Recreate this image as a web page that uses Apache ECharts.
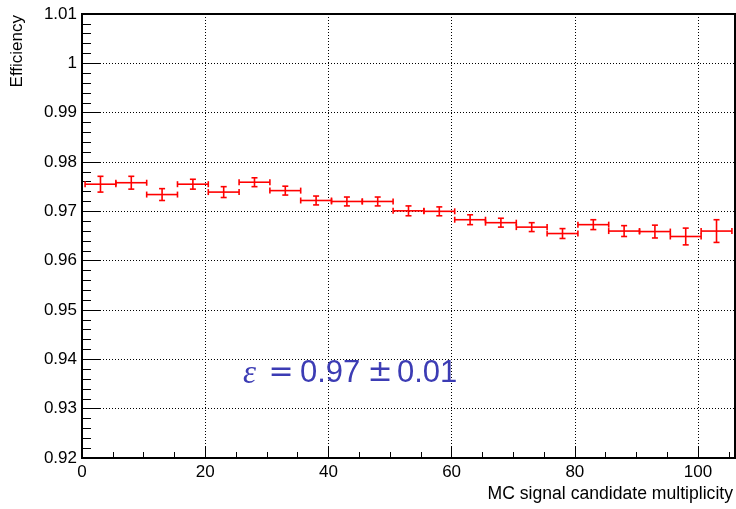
<!DOCTYPE html>
<html>
<head>
<meta charset="utf-8">
<script src="https://cdn.jsdelivr.net/npm/echarts@6/dist/echarts.min.js"></script>
<style>
  html, body { margin: 0; padding: 0; background: #fff; }
  #chart { width: 736px; height: 509px; }
</style>
</head>
<body>
<div id="chart"></div>
<script>
// bin centres (multiplicity), bin half width, efficiency and its error
const binCenters = [3, 8, 13, 18, 23, 28, 33, 38, 43, 48, 53, 58, 63, 68, 73, 78, 83, 88, 93, 98, 103];
const binHalfWidth = 2.5;
const efficiency = [0.9755, 0.9758, 0.9734, 0.9755, 0.9739, 0.9759, 0.9742, 0.9722, 0.9720, 0.9720,
                    0.9701, 0.9700, 0.9683, 0.9677, 0.9668, 0.9655, 0.9673, 0.9660, 0.9659, 0.9649, 0.9660];
const effError = [0.0016, 0.0013, 0.0012, 0.0010, 0.0011, 0.0009, 0.0009, 0.0009, 0.0009, 0.0009,
                  0.0010, 0.0009, 0.0010, 0.0009, 0.0009, 0.0010, 0.0010, 0.0011, 0.0013, 0.0017, 0.0023];

const X_MIN = 0, X_MAX = 106;
const Y_MIN = 0.92, Y_MAX = 1.01;
const FONT = "'Liberation Sans', Arial, Helvetica, sans-serif";
const BLUE = '#3c3cb4';

const points = binCenters.map((c, i) => [c, efficiency[i], effError[i]]);

const chart = echarts.init(document.getElementById('chart'));

// ROOT style error bar: horizontal bar over the bin, vertical error
function renderErrorBar(params, api) {
    const x = api.value(0), y = api.value(1), e = api.value(2);
    const pL = api.coord([x - binHalfWidth, y]);
    const pR = api.coord([x + binHalfWidth, y]);
    const pT = api.coord([x, y + e]);
    const pB = api.coord([x, y - e]);
    const st = { stroke: '#ff0000', lineWidth: 1.6 };
    const cap = 3;
    return {
        type: 'group',
        children: [
            { type: 'line', shape: { x1: pL[0], y1: pL[1], x2: pR[0], y2: pR[1] }, style: st },
            { type: 'line', shape: { x1: pL[0], y1: pL[1] - cap, x2: pL[0], y2: pL[1] + cap }, style: st },
            { type: 'line', shape: { x1: pR[0], y1: pR[1] - cap, x2: pR[0], y2: pR[1] + cap }, style: st },
            { type: 'line', shape: { x1: pT[0], y1: pT[1], x2: pB[0], y2: pB[1] }, style: st },
            { type: 'line', shape: { x1: pT[0] - cap, y1: pT[1], x2: pT[0] + cap, y2: pT[1] }, style: st },
            { type: 'line', shape: { x1: pB[0] - cap, y1: pB[1], x2: pB[0] + cap, y2: pB[1] }, style: st }
        ]
    };
}

const option = {
    animation: false,
    backgroundColor: '#fff',
    grid: {
        left: 82, right: 1, top: 14, bottom: 51,
        show: true, borderColor: '#000', borderWidth: 2, backgroundColor: 'transparent'
    },
    xAxis: [
        {
            type: 'value', min: X_MIN, max: X_MAX, interval: 20,
            axisLine: { show: true, lineStyle: { color: '#000', width: 2 } },
            axisTick: { show: true, inside: true, length: 12, lineStyle: { color: '#000', width: 1 } },
            axisLabel: { color: '#000', fontSize: 17, fontFamily: FONT, margin: 6, showMaxLabel: false },
            splitLine: { show: true, lineStyle: { color: '#000', width: 1, type: [1, 2] } }
        },
        {
            // minor ticks every 5
            type: 'value', min: X_MIN, max: X_MAX, interval: 5, position: 'bottom',
            axisLine: { show: false },
            axisTick: { show: true, inside: true, length: 6, lineStyle: { color: '#000', width: 1 } },
            axisLabel: { show: false },
            splitLine: { show: false }
        }
    ],
    yAxis: {
        type: 'value', min: Y_MIN, max: Y_MAX, interval: 0.01,
        axisLine: { show: true, lineStyle: { color: '#000', width: 2 } },
        axisTick: { show: true, inside: true, length: 18, lineStyle: { color: '#000', width: 1 } },
        minorTick: { show: true, splitNumber: 5, length: 9, lineStyle: { color: '#000', width: 1 } },
        axisLabel: {
            color: '#000', fontSize: 17, fontFamily: FONT, margin: 5,
            formatter: v => String(+v.toFixed(2))
        },
        splitLine: { show: true, lineStyle: { color: '#000', width: 1, type: [1, 2] } }
    },
    series: [
        {
            type: 'custom',
            xAxisIndex: 0,
            yAxisIndex: 0,
            data: points,
            renderItem: renderErrorBar,
            z: 10
        }
    ],
    graphic: [
        {
            type: 'text', x: 17, y: 15, rotation: Math.PI / 2,
            style: { text: 'Efficiency', font: '17px ' + FONT, fill: '#000', align: 'right', verticalAlign: 'middle' }
        },
        {
            type: 'text', x: 733, y: 494,
            style: { text: 'MC signal candidate multiplicity', font: '17.6px ' + FONT, fill: '#000', align: 'right', verticalAlign: 'middle' }
        },
        // annotation: ε = 0.97 ± 0.01
        {
            type: 'text', x: 243, y: 374, z: 20,
            style: { text: 'ε', font: 'italic 33px "Liberation Serif", "DejaVu Serif", serif', fill: BLUE, align: 'left', verticalAlign: 'middle' }
        },
        {
            type: 'text', x: 281, y: 373, z: 20,
            style: { text: '=', font: '30px "DejaVu Sans", sans-serif', fill: BLUE, align: 'center', verticalAlign: 'middle' }
        },
        {
            type: 'text', x: 300, y: 373, z: 20,
            style: { text: '0.97', font: '31px ' + FONT, fill: BLUE, align: 'left', verticalAlign: 'middle' }
        },
        {
            type: 'text', x: 380, y: 373, z: 20,
            style: { text: '±', font: '30px "DejaVu Sans", sans-serif', fill: BLUE, align: 'center', verticalAlign: 'middle' }
        },
        {
            type: 'text', x: 397, y: 373, z: 20,
            style: { text: '0.01', font: '31px ' + FONT, fill: BLUE, align: 'left', verticalAlign: 'middle' }
        }
    ]
};

chart.setOption(option);
</script>
</body>
</html>
